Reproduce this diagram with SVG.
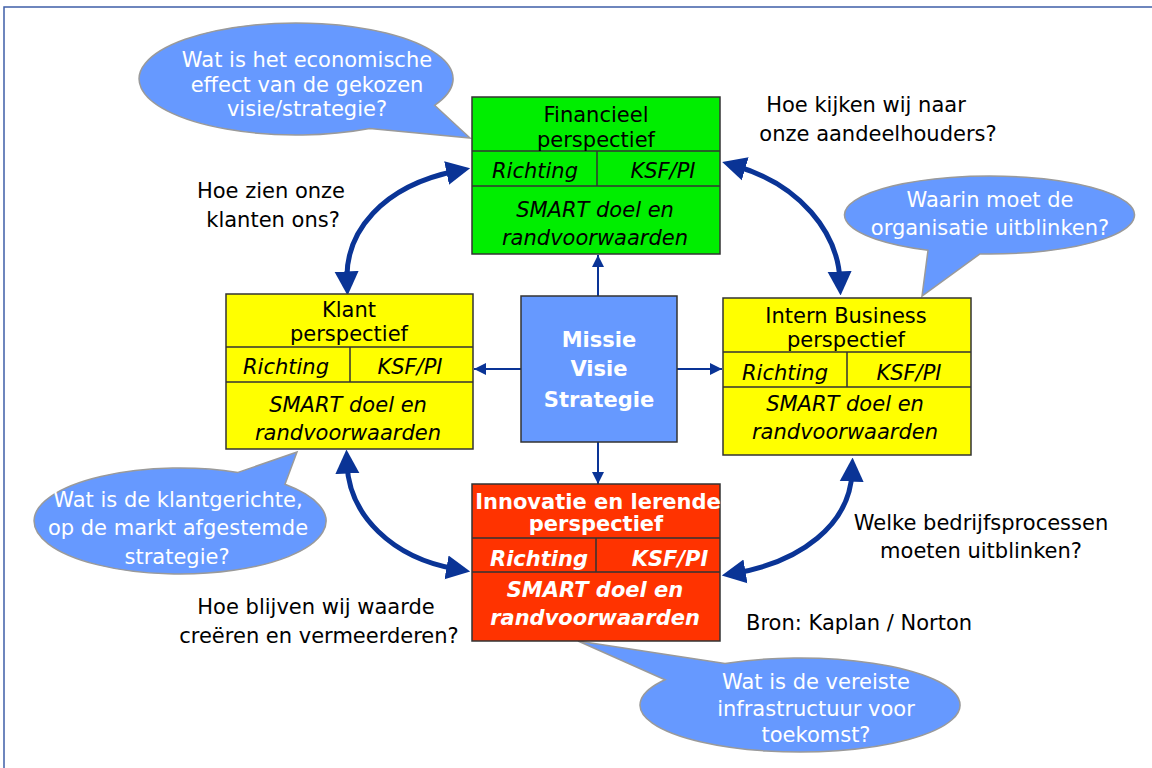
<svg xmlns="http://www.w3.org/2000/svg" width="1152" height="768" viewBox="0 0 1152 768">
  <defs>
    <style>
      text { font-family: "DejaVu Sans", Verdana, sans-serif; font-size: 21px; text-anchor: middle; }
      .plain { fill: #000; }
      .bubble-text { fill: #fff; }
      .it { font-style: italic; fill: #000; }
      .hdr { fill: #000; }
      .wb { fill: #fff; font-weight: bold; }
      .wbi { fill: #fff; font-weight: bold; font-style: italic; }
      .box { stroke: #333; stroke-width: 1.5; }
      .div { stroke: #333; stroke-width: 1.5; fill: none; }
      .bubble { fill: #6699ff; stroke: #9a9a9a; stroke-width: 1.5; }
      .thin { stroke: #0a3496; stroke-width: 2; fill: none; }
      .thick { stroke: #0a3496; stroke-width: 5; fill: none; }
    </style>
    <marker id="small" viewBox="0 0 10 10" refX="10" refY="5" markerWidth="13" markerHeight="12" markerUnits="userSpaceOnUse" orient="auto">
      <path d="M0,0 L10,5 L0,10 Z" fill="#0a3496"/>
    </marker>
    <marker id="big" viewBox="0 0 10 10" refX="4" refY="5" markerWidth="24" markerHeight="26" markerUnits="userSpaceOnUse" orient="auto-start-reverse">
      <path d="M0,0 L10,5 L0,10 Z" fill="#0a3496"/>
    </marker>
  </defs>

  <rect width="1152" height="768" fill="#fff"/>
  <!-- page frame -->
  <path d="M4,768 L4,7 L1152,7" fill="none" stroke="#3f5fa8" stroke-width="1.5"/>

  <!-- speech bubbles -->
  <g id="bubble-financieel">
    <path class="bubble" d="M434.6,105.3 L470,138 L369.7,128.4 A157,56 0 1 1 434.6,105.3 Z"/>
    <text class="bubble-text" x="307" y="67">Wat is het economische</text>
    <text class="bubble-text" x="307" y="92">effect van de gekozen</text>
    <text class="bubble-text" x="307" y="116">visie/strategie?</text>
  </g>
  <g id="bubble-intern">
    <path class="bubble" d="M980,253.9 L922,296 L928,250.3 A145,39 0 1 1 980,253.9 Z"/>
    <text class="bubble-text" x="990" y="207">Waarin moet de</text>
    <text class="bubble-text" x="990" y="235">organisatie uitblinken?</text>
  </g>
  <g id="bubble-klant">
    <path class="bubble" d="M238,472.4 L297,452 L285,484.2 A146,53 0 1 1 238,472.4 Z"/>
    <text class="bubble-text" x="178" y="507">Wat is de klantgerichte,</text>
    <text class="bubble-text" x="178" y="535">op de markt afgestemde</text>
    <text class="bubble-text" x="177" y="564">strategie?</text>
  </g>
  <g id="bubble-innovatie">
    <path class="bubble" d="M665,679.8 L578,641 L725,663.5 A160,47 0 1 1 665,679.8 Z"/>
    <text class="bubble-text" x="816" y="689">Wat is de vereiste</text>
    <text class="bubble-text" x="816" y="716">infrastructuur voor</text>
    <text class="bubble-text" x="816" y="742">toekomst?</text>
  </g>

  <!-- connectors -->
  <g id="connectors">
    <line class="thin" x1="598" y1="296" x2="598" y2="255" marker-end="url(#small)"/>
    <line class="thin" x1="598" y1="442" x2="598" y2="484" marker-end="url(#small)"/>
    <line class="thin" x1="521" y1="369" x2="474" y2="369" marker-end="url(#small)"/>
    <line class="thin" x1="677" y1="369" x2="722" y2="369" marker-end="url(#small)"/>
    <path class="thick" d="M347,281 C345,232 382,186 456,171" marker-start="url(#big)" marker-end="url(#big)"/>
    <path class="thick" d="M736,166 C800,185 838,232 840,281" marker-start="url(#big)" marker-end="url(#big)"/>
    <path class="thick" d="M347,464 C349,515 392,558 456,569" marker-start="url(#big)" marker-end="url(#big)"/>
    <path class="thick" d="M852,472 C850,525 800,562 736,573" marker-start="url(#big)" marker-end="url(#big)"/>
  </g>

  <!-- perspective boxes -->
  <g id="financieel">
    <rect class="box" x="472" y="97" width="248" height="157" fill="#00ee00"/>
    <path class="div" d="M472,151 H720 M472,186 H720 M597,151 V186"/>
    <text class="hdr" x="596" y="122">Financieel</text>
    <text class="hdr" x="596" y="147">perspectief</text>
    <text class="it" x="535" y="178">Richting</text>
    <text class="it" x="663" y="178">KSF/PI</text>
    <text class="it" x="595" y="217">SMART doel en</text>
    <text class="it" x="595" y="245">randvoorwaarden</text>
  </g>

  <g id="klant">
    <rect class="box" x="226" y="294" width="247" height="155" fill="#ffff00"/>
    <path class="div" d="M226,347 H473 M226,382 H473 M350,347 V382"/>
    <text class="hdr" x="349" y="317">Klant</text>
    <text class="hdr" x="349" y="341">perspectief</text>
    <text class="it" x="286" y="374">Richting</text>
    <text class="it" x="410" y="374">KSF/PI</text>
    <text class="it" x="348" y="412">SMART doel en</text>
    <text class="it" x="348" y="440">randvoorwaarden</text>
  </g>

  <g id="intern">
    <rect class="box" x="723" y="298" width="248" height="157" fill="#ffff00"/>
    <path class="div" d="M723,352 H971 M723,387 H971 M847,352 V387"/>
    <text class="hdr" x="846" y="323">Intern Business</text>
    <text class="hdr" x="846" y="347">perspectief</text>
    <text class="it" x="785" y="380">Richting</text>
    <text class="it" x="909" y="380">KSF/PI</text>
    <text class="it" x="845" y="411">SMART doel en</text>
    <text class="it" x="845" y="439">randvoorwaarden</text>
  </g>

  <g id="innovatie">
    <rect class="box" x="472" y="484" width="248" height="157" fill="#ff3300"/>
    <path class="div" d="M472,538 H720 M472,572 H720 M596,538 V572"/>
    <text class="wb" x="598" y="509">Innovatie en lerende</text>
    <text class="wb" x="596" y="531">perspectief</text>
    <text class="wbi" x="539" y="566">Richting</text>
    <text class="wbi" x="670" y="566">KSF/PI</text>
    <text class="wbi" x="595" y="597">SMART doel en</text>
    <text class="wbi" x="595" y="625">randvoorwaarden</text>
  </g>

  <g id="missie">
    <rect class="box" x="521" y="296" width="156" height="146" fill="#6699ff"/>
    <text class="wb" x="599" y="347">Missie</text>
    <text class="wb" x="599" y="376">Visie</text>
    <text class="wb" x="599" y="407">Strategie</text>
  </g>

  <!-- free-standing questions -->
  <g id="vragen">
    <text class="plain" x="866" y="112">Hoe kijken wij naar</text>
    <text class="plain" x="878" y="141">onze aandeelhouders?</text>
    <text class="plain" x="271" y="198">Hoe zien onze</text>
    <text class="plain" x="273" y="227">klanten ons?</text>
    <text class="plain" x="981" y="530">Welke bedrijfsprocessen</text>
    <text class="plain" x="981" y="558">moeten uitblinken?</text>
    <text class="plain" x="316" y="614">Hoe blijven wij waarde</text>
    <text class="plain" x="319" y="643">creëren en vermeerderen?</text>
    <text class="plain" x="746" y="630" style="text-anchor:start">Bron: Kaplan / Norton</text>
  </g>
</svg>
